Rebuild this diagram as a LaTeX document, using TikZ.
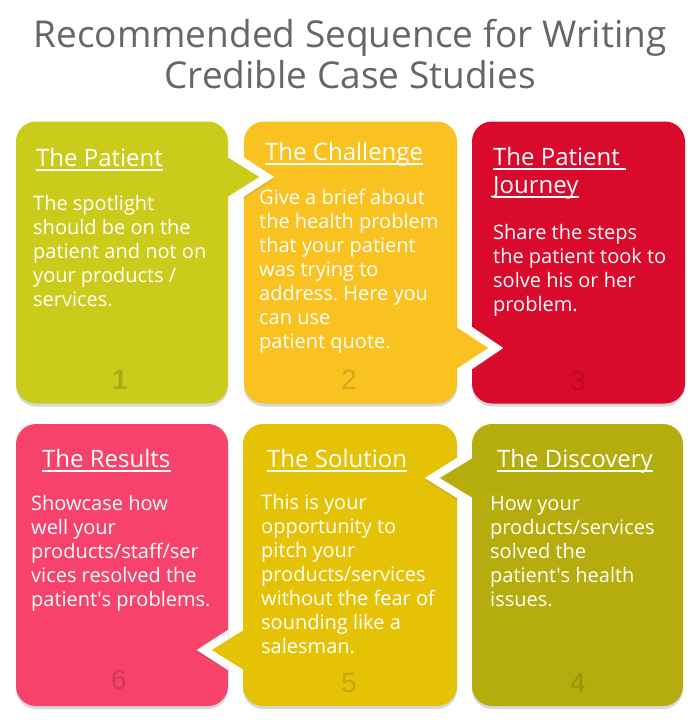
\documentclass[tikz,border=0pt]{standalone}
\usepackage{fontspec}
\setmainfont{Open Sans}
\newfontfamily\numfont{Liberation Sans}
\usetikzlibrary{calc,shadows}
\definecolor{cOne}{HTML}{CBCB1B}
\definecolor{cTwo}{HTML}{F9C220}
\definecolor{cThree}{HTML}{DA0A2C}
\definecolor{cFour}{HTML}{B5AC0E}
\definecolor{cFive}{HTML}{E6C207}
\definecolor{cSix}{HTML}{F7436C}
\definecolor{titlegray}{HTML}{666666}
\frenchspacing
\begin{document}
\begin{tikzpicture}[x=1pt,y=-1pt,
  card/.style={rounded corners=20pt, minimum width=212pt, minimum height=282pt, inner sep=0pt,
    drop shadow={shadow xshift=0pt, shadow yshift=-3pt, opacity=.25, fill=black!60}},
  head/.style={font=\fontsize{24}{28}\selectfont, text=white, inner sep=0pt, anchor=base west},
  body/.style={font=\fontsize{20}{24}\selectfont, text=white, inner sep=0pt, anchor=base west, align=left},
  uline/.style={white, line width=1.2pt},
  num/.style={font=\numfont\fontsize{28}{28}\selectfont, inner sep=0pt, anchor=base},
  titletext/.style={font=\fontsize{37}{41}\selectfont, text=titlegray, inner sep=0pt, anchor=base},
  halo/.style={fill=white, drop shadow={shadow xshift=0pt, shadow yshift=-2pt, opacity=.2, fill=black!60}}]
\useasboundingbox (0,0) rectangle (700,720);
\fill[white] (0,0) rectangle (700,720);

% title
\node[titletext] (t1) at (350,47) {Recommended Sequence for Writing};
\node[titletext] (t2) at (350,88) {Credible Case Studies};

% cards
\node[card, fill=cOne] (b1) at (122,262.5) {};
\node[card, fill=cTwo, minimum width=213pt] (b2) at (350.5,262.5) {};
\node[card, fill=cThree, minimum width=213pt] (b3) at (578.5,262.5) {};
\node[card, fill=cSix] (b6) at (122,565) {};
\node[card, fill=cFive, minimum width=214pt] (b5) at (350,565) {};
\node[card, fill=cFour, minimum width=211pt] (b4) at (577.5,565) {};

% pointers
\coordinate (p1) at (b1.east |- 0,177);
\coordinate (p2) at (b2.east |- 0,348);
\coordinate (p5) at (b5.west |- 0,650);
\coordinate (p4) at (b4.west |- 0,478);
\fill[halo] ($(p1)+(15,-20)$) -- ($(p1)+(46,0)$) -- ($(p1)+(15,20)$) -- cycle;
\fill[cOne] ($(p1)+(-1,-20)$) -- ($(p1)+(31,0)$) -- ($(p1)+(-1,20)$) -- cycle;
\fill[halo] ($(p2)+(15,-21)$) -- ($(p2)+(46,0)$) -- ($(p2)+(15,21)$) -- cycle;
\fill[cTwo] ($(p2)+(-1,-21)$) -- ($(p2)+(31,0)$) -- ($(p2)+(-1,21)$) -- cycle;
\fill[halo] ($(p5)+(-15,-20)$) -- ($(p5)+(-46,0)$) -- ($(p5)+(-15,20)$) -- cycle;
\fill[cFive] ($(p5)+(1,-20)$) -- ($(p5)+(-31,0)$) -- ($(p5)+(1,20)$) -- cycle;
\fill[halo] ($(p4)+(-15,-20)$) -- ($(p4)+(-47,0)$) -- ($(p4)+(-15,20)$) -- cycle;
\fill[cFour] ($(p4)+(1,-20)$) -- ($(p4)+(-32,0)$) -- ($(p4)+(1,20)$) -- cycle;

% headings
\node[head] (h1) at (36,166) {The Patient};
\draw[uline] ($(h1.base west)+(0,4)$) -- ($(h1.base east)+(0,4)$);
\node[head] (h2) at (265,160) {The Challenge};
\draw[uline] ($(h2.base west)+(0,4)$) -- ($(h2.base east)+(0,4)$);
\node[head] (h3a) at (493,165) {The Patient};
\draw[uline] ($(h3a.base west)+(0,4)$) -- ($(h3a.base east)+(6,4)$);
\node[head] (h3b) at (493,193) {Journey};
\draw[uline] ($(h3b.base west)+(0,4)$) -- ($(h3b.base east)+(0,4)$);
\node[head] (h6) at (42,467) {The Results};
\draw[uline] ($(h6.base west)+(0,4)$) -- ($(h6.base east)+(0,4)$);
\node[head] (h5) at (267,467) {The Solution};
\draw[uline] ($(h5.base west)+(0,4)$) -- ($(h5.base east)+(0,4)$);
\node[head] (h4) at (497,467) {The Discovery};
\draw[uline] ($(h4.base west)+(0,4)$) -- ($(h4.base east)+(0,4)$);

% body texts (anchor = baseline of the last line)
\node[body] (x1) at (33,306) {The spotlight\\should be on the\\patient and not on\\your products /\\services.};
\node[body] (x2) at (259,348) {Give a brief about\\the health problem\\that your patient\\was trying to\\address. Here you\\can use\\patient quote.};
\node[body] (x3) at (493,311) {Share the steps\\the patient took to\\solve his or her\\problem.};
\node[body] (x6) at (31,606) {Showcase how\\well your\\products/staff/ser\\vices resolved the\\patient\textquotesingle s problems.};
\node[body] (x5) at (261,653) {This is your\\opportunity to\\pitch your\\products/services\\without the fear of\\sounding like a\\salesman.};
\node[body] (x4) at (490,606) {How your\\products/services\\solved the\\patient\textquotesingle s health\\issues.};

% numbers
\node[num, text=cOne!84!black] (n1) at (120,389) {\bfseries 1};
\node[num, text=cTwo!86!black] (n2) at (349,389) {2};
\node[num, text=cThree!86!black] (n3) at (578,390) {3};
\node[num, text=cSix!84!black] (n6) at (119,689) {6};
\node[num, text=cFive!86!black] (n5) at (349,692) {5};
\node[num, text=cFour!86!black] (n4) at (578,692) {4};
\end{tikzpicture}
\end{document}
